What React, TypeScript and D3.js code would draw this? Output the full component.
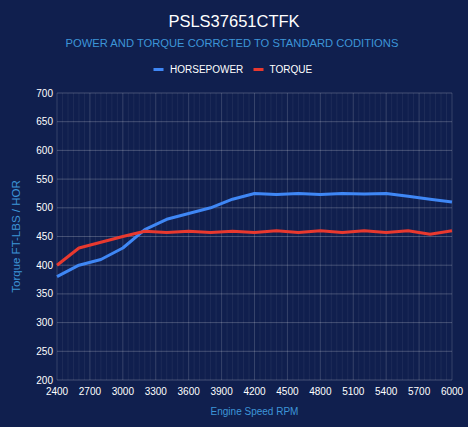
import * as d3 from 'd3';

const rpm = [2400, 2600, 2800, 3000, 3200, 3400, 3600, 3800, 4000, 4200, 4400, 4600, 4800, 5000, 5200, 5400, 5600, 5800, 6000];
const horsepower = [380, 400, 410, 430, 462, 480, 490, 500, 515, 525, 523, 525, 523, 525, 524, 525, 520, 515, 510];
const torque = [400, 430, 440, 450, 459, 457, 459, 457, 459, 457, 460, 457, 460, 457, 460, 457, 460, 454, 460];
const xTicks = [2400, 2700, 3000, 3300, 3600, 3900, 4200, 4500, 4800, 5100, 5400, 5700, 6000];
const yTicks = [200, 250, 300, 350, 400, 450, 500, 550, 600, 650, 700];

const W = 468;
const H = 427;
const margin = { top: 93, right: 16, bottom: 47, left: 57 };
const FONT = '"Liberation Sans", Arial, sans-serif';
const BG = '#101f4e';
const HP_COLOR = '#3f87f5';
const TQ_COLOR = '#e8392f';
const LABEL_BLUE = '#3d95d8';

export default function App() {
  const x = d3.scaleLinear().domain([2400, 6000]).range([margin.left, W - margin.right]);
  const y = d3.scaleLinear().domain([200, 700]).range([H - margin.bottom, margin.top]);

  const line = d3
    .line<number>()
    .x((_, i) => x(rpm[i]))
    .y((d) => y(d));

  // faint minor grid like the original dyno sheet
  const minor = d3.range(2400, 6001, 50);

  return (
    <svg
      width={W}
      height={H}
      style={{ position: 'absolute', left: 0, top: 0, background: BG, fontFamily: FONT }}
    >
      <rect width={W} height={H} fill={BG} />

      {/* titles */}
      <text x={W / 2} y={27} textAnchor="middle" fill="#ffffff" fontSize={16.5}>
        PSLS37651CTFK
      </text>
      <text x={W / 2 - 2} y={47} textAnchor="middle" fill={LABEL_BLUE} fontSize={11.2}>
        POWER AND TORQUE CORRCTED TO STANDARD CODITIONS
      </text>

      {/* legend */}
      <g fontSize={10} fill="#ffffff">
        <rect x={153.5} y={68} width={10} height={3} fill={HP_COLOR} />
        <text x={170} y={73}>HORSEPOWER</text>
        <rect x={253.5} y={68} width={10} height={3} fill={TQ_COLOR} />
        <text x={269.5} y={73}>TORQUE</text>
      </g>

      {/* grid */}
      <g>
        {minor.map((v) => (
          <line
            key={'m' + v}
            x1={x(v)}
            x2={x(v)}
            y1={y(700)}
            y2={y(200)}
            stroke="#ffffff"
            strokeOpacity={v % 300 === 0 ? 0.16 : 0.06}
            strokeWidth={1}
          />
        ))}
        {yTicks.map((v) => (
          <line
            key={'h' + v}
            x1={x(2400)}
            x2={x(6000)}
            y1={y(v)}
            y2={y(v)}
            stroke="#ffffff"
            strokeOpacity={0.22}
            strokeWidth={1}
          />
        ))}
      </g>

      {/* y tick labels */}
      <g fontSize={10} fill="#ffffff" textAnchor="end">
        {yTicks.map((v) => (
          <text key={'yl' + v} x={x(2400) - 4} y={y(v) + 3.5}>
            {v}
          </text>
        ))}
      </g>

      {/* x tick labels */}
      <g fontSize={10} fill="#ffffff" textAnchor="middle">
        {xTicks.map((v) => (
          <text key={'xl' + v} x={x(v)} y={H - margin.bottom + 15}>
            {v}
          </text>
        ))}
      </g>

      {/* axis titles */}
      <text x={(margin.left + W - margin.right) / 2} y={415} textAnchor="middle" fill={LABEL_BLUE} fontSize={10}>
        Engine Speed RPM
      </text>
      <text
        transform={`translate(20,${(y(700) + y(200)) / 2}) rotate(-90)`}
        textAnchor="middle"
        fill={LABEL_BLUE}
        fontSize={11.5}
      >
        Torque FT-LBS / HOR
      </text>

      {/* series */}
      <path d={line(horsepower) ?? ''} fill="none" stroke={HP_COLOR} strokeWidth={3} strokeLinejoin="round" />
      <path d={line(torque) ?? ''} fill="none" stroke={TQ_COLOR} strokeWidth={3} strokeLinejoin="round" />
    </svg>
  );
}
